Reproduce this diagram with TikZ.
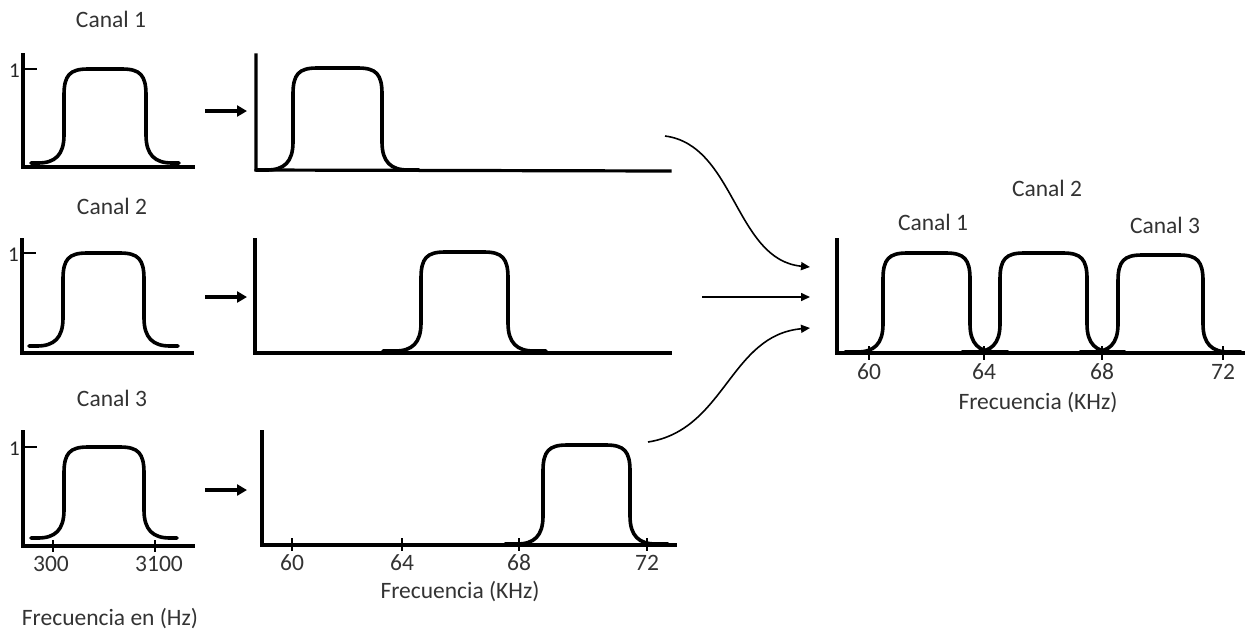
\documentclass[tikz,border=0pt]{standalone}
\usepackage{fontspec}
\setmainfont{Carlito}
\usetikzlibrary{arrows.meta}

% Flat-topped band-pass pulse: #1 left flank x, #2 right flank x, #3 top y, #4 base y, #5 foot length
\newcommand\bandpulse[5]{%
  \draw[pulseline] ({#1-#5},#4) -- ({#1-26},#4)
    .. controls ({#1-9},#4) and (#1,{#4-8}) .. (#1,{#4-28})
    -- (#1,{#3+26})
    .. controls (#1,{#3+6}) and ({#1+6},#3) .. ({#1+24},#3)
    -- ({#2-24},#3)
    .. controls ({#2-6},#3) and (#2,{#3+6}) .. (#2,{#3+26})
    -- (#2,{#4-28})
    .. controls (#2,{#4-8}) and ({#2+9},#4) .. ({#2+26},#4)
    -- ({#2+#5},#4);}

\begin{document}
\begin{tikzpicture}[x=1pt,y=-1pt,
  axisline/.style={line width=3.2pt,line cap=rect,line join=miter},
  pulseline/.style={line width=3.6pt,line join=round,line cap=round},
  tickline/.style={line width=2.8pt},
  shiftarrow/.style={line width=3.2pt,-{Triangle[length=10pt,width=11pt]}},
  mixarrow/.style={line width=1.6pt,-{Triangle[length=9pt,width=8pt]}},
  lbl/.style={text=black!80,font=\fontsize{23.5}{28}\selectfont,inner sep=0pt},
  onelbl/.style={text=black!85,font=\fontsize{21}{24}\selectfont,inner sep=0pt,anchor=east}]
\useasboundingbox (0,0) rectangle (1255,633);

% ---------- baseband channels (left column) ----------
\node[lbl] (c1) at (111,19) {Canal 1};
\node[lbl] (c2) at (112,206) {Canal 2};
\node[lbl] (c3) at (112,398) {Canal 3};

\draw[axisline] (23,55) -- (23,167) -- (193,167);
\draw[tickline] (23,69) -- (37,69);
\node[onelbl] (one1) at (20,71) {1};
\bandpulse{64}{146}{69}{163}{33}

\draw[axisline] (22,240) -- (22,353) -- (192,353);
\draw[tickline] (22,253) -- (36,253);
\node[onelbl] (one2) at (19,255) {1};
\bandpulse{63}{144}{253}{346}{34}

\draw[axisline] (23,432) -- (23,546) -- (193,546);
\draw[tickline] (23,447) -- (37,447);
\node[onelbl] (one3) at (20,449) {1};
\draw[tickline] (53,540) -- (53,552);
\draw[tickline] (155,540) -- (155,552);
\bandpulse{64}{144}{447}{538}{33}
\node[lbl] (f300) at (51,564) {300};
\node[lbl] (f3100) at (159,564) {3100};
\node[lbl] (fhz) at (110,619) {Frecuencia en (Hz)};

% ---------- shifted channels (middle column) ----------
\draw[axisline] (256,55) -- (256,170) -- (670,171);
\bandpulse{293}{382}{68}{170}{37}

\draw[axisline] (255,240) -- (255,353) -- (670,353);
\bandpulse{421}{508}{252}{351}{38}

\draw[axisline] (262,432) -- (262,545) -- (675,545);
\foreach \tx/\tl in {292/60,402/64,519/68,647/72}
  \draw[tickline] (\tx,538) -- (\tx,551);
\bandpulse{543}{630}{445}{544}{38}
\foreach \tx/\tl in {292/60,402/64,519/68,647/72}
  \node[lbl] (m\tl) at (\tx,563) {\tl};
\node[lbl] (fkhz1) at (460,592) {Frecuencia (KHz)};

% ---------- shift arrows ----------
\coordinate (s1a) at (205,111); \coordinate (s1b) at (247,111);
\coordinate (s2a) at (205,297); \coordinate (s2b) at (247,297);
\coordinate (s3a) at (205,490); \coordinate (s3b) at (247,490);
\draw[shiftarrow] (s1a) -- (s1b);
\draw[shiftarrow] (s2a) -- (s2b);
\draw[shiftarrow] (s3a) -- (s3b);

% ---------- multiplexed spectrum (right) ----------
\node[lbl] (r2) at (1047,188) {Canal 2};
\node[lbl] (r1) at (933,222) {Canal 1};
\node[lbl] (r3) at (1165,225) {Canal 3};

\draw[axisline] (837,240) -- (837,353) -- (1243,353);
\foreach \tx in {869,984,1102,1223}
  \draw[tickline] (\tx,346) -- (\tx,360);
\bandpulse{883}{970}{253}{352}{38}
\bandpulse{1000}{1087}{253}{352}{38}
\bandpulse{1118}{1203}{255}{352}{38}
\foreach \tx/\tl in {869/60,984/64,1102/68,1223/72}
  \node[lbl] (r\tl) at (\tx,372) {\tl};
\node[lbl] (fkhz2) at (1038,403) {Frecuencia (KHz)};

% ---------- combining connectors ----------
\coordinate (k1a) at (665,136); \coordinate (k1b) at (810,267);
\coordinate (k2a) at (702,297); \coordinate (k2b) at (810,297);
\coordinate (k3a) at (648,442); \coordinate (k3b) at (810,328);
\draw[mixarrow] (k1a) .. controls (735,145) and (735,260) .. (k1b);
\draw[mixarrow] (k2a) -- (k2b);
\draw[mixarrow] (k3a) .. controls (725,430) and (730,335) .. (k3b);
\end{tikzpicture}
\end{document}
